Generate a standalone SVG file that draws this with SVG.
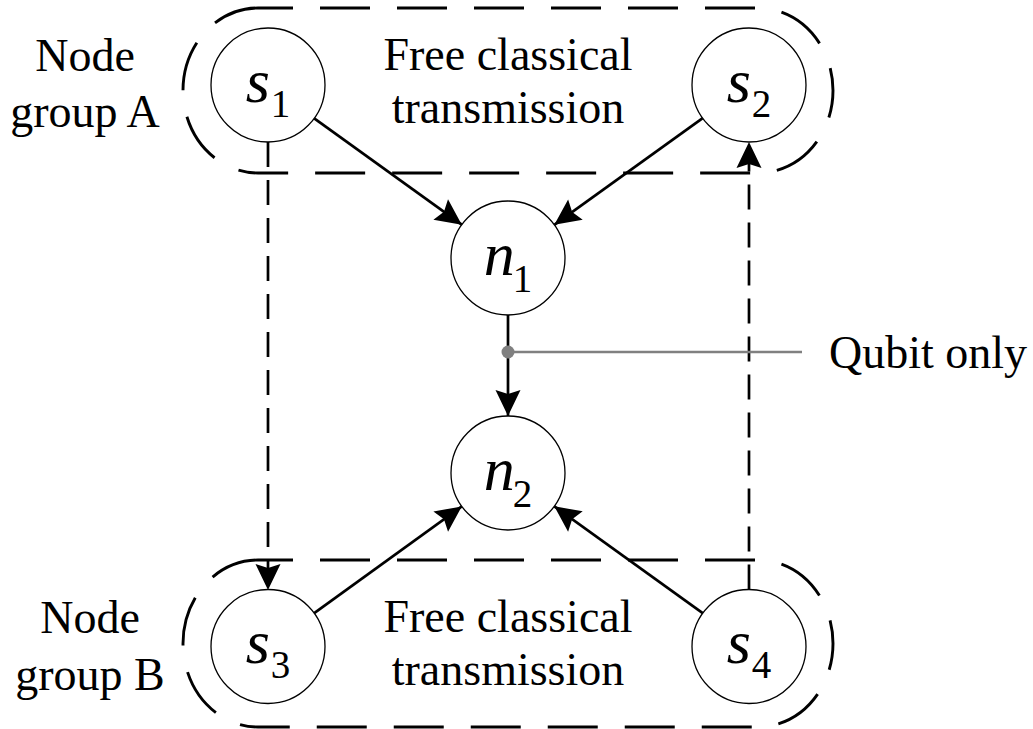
<svg xmlns="http://www.w3.org/2000/svg" width="1033" height="729" viewBox="0 0 1033 729">
<style>
.grp{fill:none;stroke:#000;stroke-width:2.9;stroke-dasharray:50 27;stroke-dashoffset:15}
.node{fill:#fff;stroke:#000;stroke-width:1.3}
.lbl{font-family:"Liberation Serif","Times New Roman",serif;font-size:46px;fill:#000}
.sym{font-family:"Liberation Serif","Times New Roman",serif;fill:#000}
.it{font-family:"Liberation Serif","Times New Roman",serif;font-style:italic;font-size:62px}
.sub{font-family:"Liberation Serif","Times New Roman",serif;font-style:normal;font-size:39px}
.solid{fill:none;stroke:#000;stroke-width:2.7}
.dash{fill:none;stroke:#000;stroke-width:2.7;stroke-dasharray:25 13}
</style>
<defs>
<marker id="ah" markerUnits="userSpaceOnUse" markerWidth="28" markerHeight="26" refX="26" refY="13" orient="auto" overflow="visible">
<path d="M0,0.5 L26,13 L0,25.5 L4,13 Z" fill="#000"/>
</marker>
</defs>
<g id="groupA">
<rect class="grp" x="183" y="8" width="650" height="165" rx="75" ry="82.5"/>
<text class="lbl" x="85" y="70.5" text-anchor="middle">Node</text>
<text class="lbl" x="85" y="126.7" text-anchor="middle">group A</text>
<text class="lbl" x="508" y="70" text-anchor="middle">Free classical</text>
<text class="lbl" x="508" y="123.3" text-anchor="middle">transmission</text>
</g>
<g id="groupB">
<rect class="grp" x="183" y="560" width="650" height="167" rx="75" ry="83.5"/>
<text class="lbl" x="90" y="633" text-anchor="middle">Node</text>
<text class="lbl" x="90" y="690" text-anchor="middle">group B</text>
<text class="lbl" x="508" y="631.5" text-anchor="middle">Free classical</text>
<text class="lbl" x="508" y="685" text-anchor="middle">transmission</text>
</g>
<g id="connectors">
<line class="dash" x1="268" y1="142" x2="268" y2="590" marker-end="url(#ah)"/>
<line class="dash" x1="749" y1="589.5" x2="749" y2="142" marker-end="url(#ah)"/>
<line class="solid" x1="314.2" y1="118.3" x2="461.8" y2="224.7" marker-end="url(#ah)"/>
<line class="solid" x1="702.7" y1="118.2" x2="554.3" y2="224.8" marker-end="url(#ah)"/>
<line class="solid" x1="508" y1="315" x2="508" y2="416" marker-end="url(#ah)"/>
<line class="solid" x1="314.2" y1="613.1" x2="461.8" y2="506.4" marker-end="url(#ah)"/>
<line class="solid" x1="702.7" y1="613.2" x2="554.3" y2="506.3" marker-end="url(#ah)"/>
</g>
<g id="qubit-note">
<line x1="508" y1="352" x2="802" y2="352" stroke="#808080" stroke-width="2.6"/>
<circle cx="508" cy="352" r="6.5" fill="#808080"/>
<text class="lbl" x="829" y="368.3">Qubit only</text>
</g>
<g id="s1">
<circle class="node" cx="268" cy="85" r="57"/>
<text class="sym" x="268" y="101.7" text-anchor="middle"><tspan class="it">s</tspan><tspan class="sub" dx="1" dy="15">1</tspan></text>
</g>
<g id="s2">
<circle class="node" cx="749" cy="85" r="57"/>
<text class="sym" x="749" y="101.7" text-anchor="middle"><tspan class="it">s</tspan><tspan class="sub" dx="1" dy="15">2</tspan></text>
</g>
<g id="n1">
<circle class="node" cx="508" cy="258" r="57"/>
<text class="sym" x="508" y="275" text-anchor="middle"><tspan class="it">n</tspan><tspan class="sub" dx="-2" dy="16.7">1</tspan></text>
</g>
<g id="n2">
<circle class="node" cx="508" cy="473" r="57"/>
<text class="sym" x="508" y="490" text-anchor="middle"><tspan class="it">n</tspan><tspan class="sub" dx="-2" dy="16.7">2</tspan></text>
</g>
<g id="s3">
<circle class="node" cx="268" cy="646.5" r="57"/>
<text class="sym" x="268" y="663.2" text-anchor="middle"><tspan class="it">s</tspan><tspan class="sub" dx="1" dy="15">3</tspan></text>
</g>
<g id="s4">
<circle class="node" cx="749" cy="646.5" r="57"/>
<text class="sym" x="749" y="663.2" text-anchor="middle"><tspan class="it">s</tspan><tspan class="sub" dx="1" dy="15">4</tspan></text>
</g>
</svg>
